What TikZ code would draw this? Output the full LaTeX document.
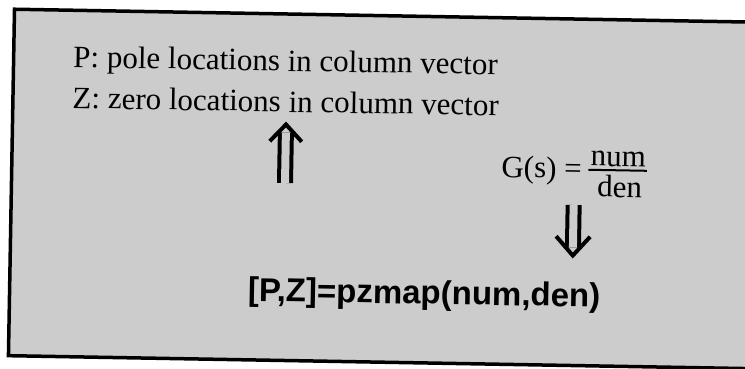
\documentclass[tikz,border=0pt]{standalone}
\usepackage{fontspec}
\setmainfont{Liberation Serif}
\newfontfamily\cmdfont{Liberation Sans}
\usetikzlibrary{positioning}
\definecolor{screen-gray}{gray}{0.8}

\begin{document}
\begin{tikzpicture}[x=1pt, y=-1pt,
    every node/.style={inner sep=0pt, font=\fontsize{31}{36}\selectfont},
    cmd/.style={font=\cmdfont\bfseries\fontsize{33}{38}\selectfont},
    shaft/.style={line width=4pt, double=screen-gray, double distance=8pt},
    barb/.style={line width=4pt, line join=miter}]
  \useasboundingbox (0,0) rectangle (745,369);
  \clip (0,0) rectangle (745,369);
  \begin{scope}[rotate around={-1:(372,184)}, transform shape]
    \draw[line width=3.5pt, fill=screen-gray] (11.5,15.5) rectangle (800,362);
    \node[anchor=base west] (P) at (71,72.5) {P: pole locations in column vector};
    \node[anchor=base west] (Z) at (71,113.5) {Z: zero locations in column vector};
    \node[anchor=base west] (G) at (501,175) {G(s) =};
    \node[anchor=base west] (num) at (590,162) {num};
    \node[anchor=base west] (den) at (597,193) {den};
    \draw[line width=2pt] ([shift={(-2,4)}]num.base west) -- ([shift={(1,4)}]num.base east);
    \node[cmd, anchor=base] (pz) at (426,303) {[P,Z]=pzmap(num,den)};
    \coordinate (upS) at (285,184.5);
    \coordinate (upE) at (285,126);
    \draw[shaft] (upS) -- ([shift={(0,8)}]upE);
    \draw[barb] ([shift={(-16,17)}]upE) -- (upE) -- ([shift={(16,17)}]upE);
    \coordinate (dnS) at (574,201.5);
    \coordinate (dnE) at (574,252);
    \draw[shaft] (dnS) -- ([shift={(0,-8)}]dnE);
    \draw[barb] ([shift={(-17,-19)}]dnE) -- (dnE) -- ([shift={(17,-19)}]dnE);
  \end{scope}
\end{tikzpicture}
\end{document}
